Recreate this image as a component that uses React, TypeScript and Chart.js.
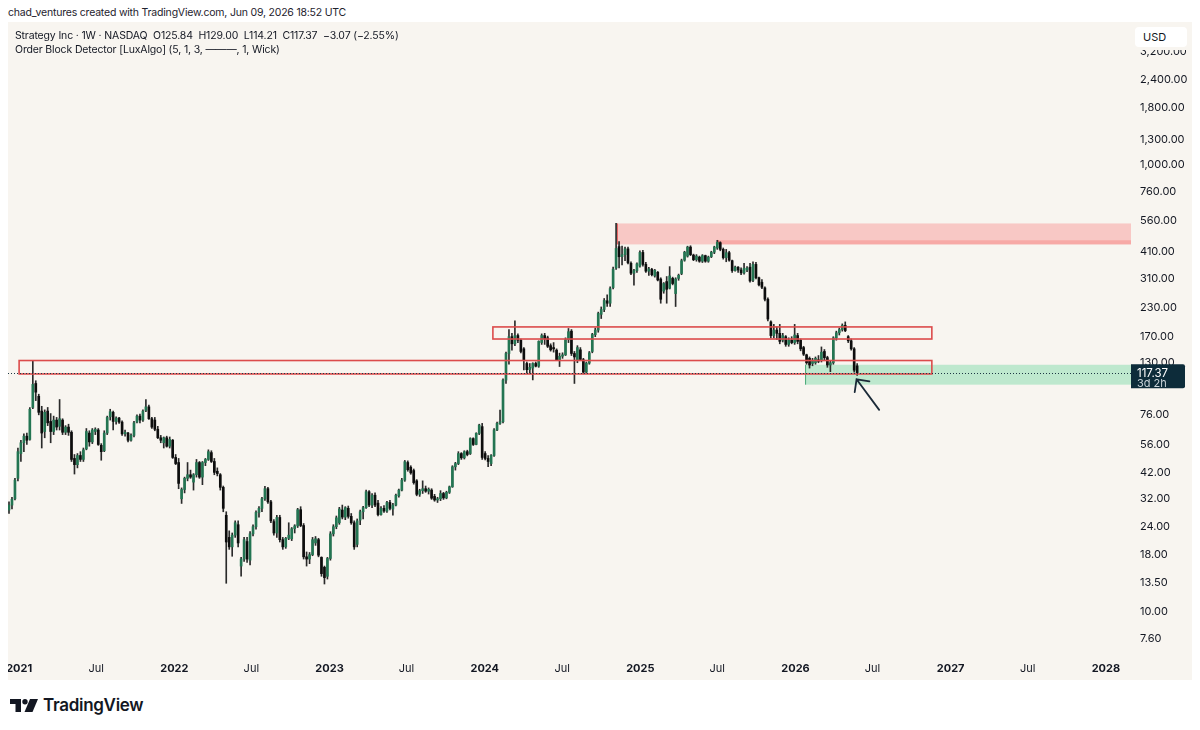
import React, { useEffect, useRef } from 'react';
import { Chart, registerables } from 'chart.js';

Chart.register(...registerables);

const FONT = 'Inter, "Noto Sans", sans-serif';
const DAY_MS = 86400000;
const FIRST_WEEK = Date.UTC(2020, 11, 21); // Monday of the first weekly bar

// Weekly OHLC, Strategy Inc (MSTR)
const OPEN = [
  28.5, 30.0, 32.0, 39.5, 51.0, 57.0, 61.0, 59.0, 82.0, 105.0,
  92.0, 79.0, 64.0, 79.0, 71.0, 64.0, 72.0, 67.5, 72.0, 63.5,
  67.0, 63.5, 48.5, 45.5, 50.0, 48.0, 53.5, 63.0, 57.5, 64.0,
  65.0, 55.5, 52.5, 63.0, 74.5, 78.0, 71.0, 73.5, 70.5, 62.5,
  63.0, 58.5, 61.5, 70.5, 75.0, 72.0, 79.5, 82.5, 73.0, 72.0,
  65.5, 60.0, 57.0, 60.0, 55.0, 58.5, 49.0, 46.5, 32.0, 35.2,
  39.5, 41.0, 38.0, 41.0, 46.5, 40.0, 46.5, 48.0, 51.5, 47.0,
  42.5, 41.0, 36.0, 27.0, 21.5, 19.5, 22.0, 24.5, 16.0, 17.2,
  20.6, 17.0, 22.3, 24.0, 27.8, 29.0, 32.0, 35.5, 31.0, 25.3,
  22.5, 26.4, 21.0, 19.5, 21.3, 21.2, 23.5, 24.2, 28.6, 24.3,
  17.6, 17.2, 18.0, 20.3, 21.0, 17.5, 15.8, 14.4, 17.3, 22.3,
  24.0, 25.0, 28.5, 26.5, 29.0, 26.7, 25.0, 20.0, 25.7, 28.0,
  29.2, 34.4, 30.0, 33.2, 30.6, 27.2, 29.0, 28.2, 30.8, 28.8,
  30.0, 33.0, 35.0, 38.8, 46.5, 44.3, 42.8, 38.5, 33.5, 34.8,
  35.5, 34.6, 35.0, 32.8, 31.6, 32.0, 33.8, 32.3, 34.2, 36.2,
  44.5, 46.0, 51.0, 48.8, 52.0, 51.0, 59.5, 56.0, 62.8, 67.3,
  51.0, 48.5, 46.0, 50.0, 65.0, 69.6, 70.8, 108.7, 143.0, 170.0,
  158.0, 172.0, 164.0, 150.0, 129.0, 121.0, 123.0, 129.0, 125.5, 160.0,
  172.0, 168.0, 155.0, 152.0, 148.0, 134.0, 139.0, 141.0, 165.0, 180.0,
  143.0, 134.0, 148.5, 134.0, 118.0, 129.5, 146.0, 173.5, 182.0, 214.0,
  225.0, 246.0, 240.0, 282.0, 345.0, 430.0, 388.0, 396.0, 420.0, 362.0,
  327.0, 336.0, 352.0, 405.0, 358.0, 334.0, 340.0, 318.0, 330.0, 308.0,
  272.0, 300.0, 280.0, 310.0, 265.0, 310.0, 326.0, 374.0, 390.0, 428.0,
  394.0, 376.0, 386.0, 370.0, 392.0, 370.0, 388.0, 406.0, 424.0, 448.0,
  418.0, 384.0, 404.0, 372.0, 336.0, 348.0, 338.0, 328.0, 338.0, 348.0,
  304.0, 358.0, 312.0, 298.0, 281.0, 250.0, 198.0, 172.0, 182.0, 176.0,
  164.0, 170.0, 157.0, 164.0, 160.0, 172.0, 164.0, 152.0, 141.0, 136.0,
  129.0, 130.0, 134.0, 133.0, 146.0, 137.0, 127.0, 130.0, 168.0, 177.0,
  183.0, 191.0, 170.0, 163.0, 150.0, 125.84,
];

const HIGH = [
  31.0, 32.5, 39.5, 54.0, 58.5, 62.5, 63.0, 82.0, 133.0, 108.0,
  94.0, 83.0, 80.0, 82.0, 77.0, 75.0, 74.0, 89.0, 73.0, 68.0,
  69.0, 64.5, 50.5, 51.0, 52.0, 54.0, 66.0, 64.5, 66.0, 66.5,
  66.0, 56.5, 64.5, 75.0, 80.5, 79.0, 74.5, 74.0, 71.5, 65.0,
  63.5, 62.5, 71.0, 76.0, 76.5, 80.0, 89.0, 84.0, 74.0, 74.0,
  67.5, 61.5, 60.5, 61.0, 60.5, 59.0, 50.5, 48.5, 35.8, 40.0,
  46.5, 43.0, 41.5, 48.0, 47.0, 47.0, 48.5, 53.0, 52.5, 48.5,
  44.0, 41.5, 36.5, 28.0, 23.0, 22.5, 25.5, 25.5, 17.5, 21.5,
  21.5, 22.8, 24.5, 28.3, 29.5, 32.5, 36.4, 36.0, 31.5, 25.8,
  27.0, 27.0, 21.5, 21.5, 25.0, 23.8, 24.5, 29.0, 29.5, 24.8,
  18.5, 18.4, 21.5, 21.7, 21.3, 17.6, 16.0, 17.5, 22.8, 24.5,
  26.8, 29.3, 30.0, 29.5, 29.7, 27.5, 25.5, 26.0, 28.5, 29.6,
  35.0, 34.8, 33.8, 34.0, 31.5, 29.5, 29.8, 31.2, 31.5, 30.5,
  33.6, 35.4, 39.5, 47.5, 47.3, 45.0, 43.5, 39.0, 35.3, 38.5,
  36.5, 35.8, 35.5, 33.5, 32.5, 34.8, 34.2, 34.6, 36.5, 45.0,
  46.6, 52.0, 51.5, 52.5, 52.8, 60.0, 60.0, 63.2, 69.0, 69.6,
  52.0, 50.0, 50.5, 66.0, 70.5, 79.8, 110.0, 145.0, 183.0, 176.0,
  200.0, 175.0, 166.0, 152.0, 131.0, 129.0, 130.0, 131.0, 163.0, 175.0,
  176.0, 171.0, 158.0, 160.0, 150.0, 143.5, 144.0, 168.0, 185.0, 183.0,
  146.0, 155.0, 152.0, 136.0, 131.0, 146.0, 176.0, 186.0, 219.0, 231.0,
  252.0, 262.0, 284.0, 348.0, 546.0, 453.0, 432.0, 428.0, 428.0, 368.0,
  340.0, 364.0, 412.0, 414.0, 366.0, 347.0, 344.0, 340.0, 333.0, 312.0,
  297.0, 316.0, 350.0, 314.0, 312.0, 324.0, 378.0, 410.0, 432.0, 434.0,
  398.0, 396.0, 390.0, 396.0, 394.0, 390.0, 410.0, 432.0, 459.0, 452.0,
  424.0, 418.0, 410.0, 374.0, 352.0, 350.0, 346.0, 362.0, 350.0, 362.0,
  368.0, 366.0, 314.0, 306.0, 284.0, 254.0, 200.0, 193.0, 188.0, 193.0,
  176.0, 172.0, 168.0, 170.0, 193.0, 176.0, 166.0, 154.0, 142.0, 138.0,
  136.0, 138.0, 140.0, 153.0, 149.0, 139.0, 132.0, 170.0, 180.0, 186.0,
  194.0, 198.0, 172.0, 166.0, 152.0, 129.0,
];

const LOW = [
  27.5, 28.8, 31.6, 38.5, 47.0, 52.0, 56.0, 58.5, 81.0, 88.0,
  76.0, 54.0, 60.0, 68.0, 57.0, 62.0, 65.0, 65.0, 62.0, 62.0,
  61.5, 47.0, 41.3, 44.0, 47.0, 47.0, 53.0, 55.0, 56.5, 62.0,
  55.5, 47.6, 52.0, 62.0, 72.0, 65.0, 69.0, 69.5, 61.5, 61.0,
  57.5, 58.0, 60.5, 70.0, 70.0, 71.0, 78.5, 72.5, 66.0, 64.5,
  59.5, 57.0, 54.0, 54.5, 54.0, 48.5, 45.5, 35.5, 30.5, 34.0,
  38.5, 39.5, 35.0, 40.0, 39.5, 37.0, 45.0, 47.5, 46.5, 41.0,
  40.5, 35.0, 28.0, 13.4, 19.0, 17.7, 21.5, 19.5, 14.4, 16.8,
  16.6, 16.2, 21.8, 23.4, 26.5, 28.0, 31.5, 30.5, 25.0, 22.0,
  21.5, 20.5, 19.0, 19.2, 21.0, 20.8, 22.5, 23.8, 24.0, 17.2,
  16.0, 16.4, 17.8, 19.8, 17.6, 14.4, 13.3, 14.0, 17.0, 21.8,
  23.5, 24.6, 26.0, 25.8, 26.2, 24.6, 19.0, 19.5, 24.5, 26.0,
  29.0, 29.5, 29.2, 29.5, 26.8, 27.0, 27.8, 27.8, 28.5, 27.0,
  29.7, 32.5, 34.7, 38.3, 42.5, 41.2, 37.2, 33.0, 32.8, 33.8,
  34.2, 33.6, 31.8, 31.2, 30.8, 31.4, 31.8, 32.0, 33.8, 36.0,
  43.0, 45.5, 48.0, 48.2, 49.8, 50.5, 55.4, 55.8, 62.0, 48.0,
  47.8, 44.5, 45.0, 49.5, 64.5, 68.8, 70.0, 105.0, 128.0, 148.0,
  155.0, 160.0, 144.0, 120.7, 116.6, 116.0, 108.9, 124.5, 124.0, 157.0,
  157.0, 152.0, 146.5, 145.0, 133.0, 125.0, 136.0, 140.0, 160.0, 140.0,
  105.0, 130.0, 133.0, 116.0, 116.5, 128.0, 144.0, 170.0, 178.0, 205.0,
  220.0, 232.0, 232.0, 278.0, 340.0, 345.0, 356.0, 372.0, 360.0, 322.0,
  289.0, 330.0, 348.0, 352.0, 330.0, 320.0, 318.0, 314.0, 302.0, 240.0,
  266.0, 240.0, 278.0, 290.0, 232.0, 304.0, 322.0, 370.0, 386.0, 392.0,
  372.0, 370.0, 366.0, 365.0, 366.0, 366.0, 384.0, 400.0, 418.0, 412.0,
  378.0, 368.0, 370.0, 330.0, 334.0, 330.0, 322.0, 324.0, 332.0, 298.0,
  300.0, 308.0, 287.0, 279.0, 246.0, 200.0, 168.0, 168.0, 165.0, 158.0,
  161.0, 154.0, 154.0, 158.0, 157.0, 158.0, 147.0, 140.0, 128.0, 123.0,
  126.0, 128.0, 130.0, 131.0, 134.0, 124.0, 118.6, 128.0, 164.0, 173.0,
  180.0, 179.0, 160.0, 148.0, 118.0, 114.21,
];

const CLOSE = [
  30.0, 31.8, 38.8, 52.0, 57.0, 61.0, 58.5, 80.5, 104.0, 96.0,
  78.0, 63.0, 78.0, 70.0, 64.0, 72.0, 67.0, 73.0, 63.5, 67.0,
  63.5, 48.0, 45.5, 50.0, 48.0, 53.0, 64.0, 57.5, 65.0, 65.5,
  56.0, 52.0, 63.0, 74.0, 78.5, 71.0, 73.5, 70.5, 62.5, 63.5,
  58.5, 61.5, 70.0, 75.0, 72.0, 79.0, 82.5, 73.0, 67.0, 65.5,
  60.0, 58.5, 60.0, 55.0, 59.0, 49.0, 46.0, 37.5, 35.2, 39.5,
  41.0, 40.0, 41.0, 46.5, 40.0, 46.5, 48.0, 52.0, 47.0, 42.0,
  41.5, 36.0, 29.0, 20.5, 19.5, 22.0, 25.0, 20.3, 17.2, 21.0,
  17.2, 22.3, 24.0, 27.8, 29.0, 32.0, 35.5, 31.0, 25.5, 22.5,
  26.4, 21.0, 19.5, 21.3, 22.0, 23.5, 24.2, 28.6, 24.3, 17.6,
  17.2, 18.0, 21.0, 21.2, 17.9, 14.8, 14.2, 17.3, 22.3, 24.0,
  26.3, 28.8, 26.5, 29.2, 26.7, 25.0, 19.5, 25.5, 28.0, 29.2,
  34.4, 30.0, 33.2, 30.0, 27.2, 29.0, 28.2, 30.8, 29.0, 30.0,
  33.2, 35.0, 38.8, 46.9, 43.2, 41.8, 37.8, 33.5, 34.8, 35.5,
  34.6, 35.3, 32.2, 31.6, 32.0, 33.8, 32.3, 34.2, 36.2, 44.5,
  46.0, 51.0, 48.8, 52.0, 50.5, 59.5, 56.0, 62.8, 68.4, 49.0,
  48.5, 47.0, 50.0, 65.0, 69.6, 70.8, 108.7, 143.0, 170.0, 158.0,
  172.0, 164.0, 146.0, 134.0, 121.0, 124.0, 129.0, 125.5, 162.0, 172.0,
  166.0, 154.0, 148.5, 150.0, 134.0, 139.0, 141.0, 165.0, 179.0, 143.0,
  138.0, 152.0, 134.5, 118.0, 129.5, 144.0, 174.0, 182.0, 216.0, 225.0,
  247.0, 240.0, 279.0, 341.0, 421.9, 387.5, 396.0, 420.0, 364.0, 327.0,
  336.0, 360.0, 405.0, 358.0, 334.0, 342.0, 322.0, 337.0, 305.0, 250.0,
  294.0, 277.0, 318.0, 294.0, 308.0, 320.0, 372.0, 406.0, 428.0, 396.0,
  376.0, 390.0, 370.0, 392.0, 370.0, 386.0, 406.0, 428.0, 450.0, 418.0,
  384.0, 404.0, 374.0, 336.0, 348.0, 338.0, 328.0, 344.0, 345.0, 302.0,
  358.0, 312.0, 290.0, 283.0, 250.0, 204.0, 172.0, 182.0, 176.0, 162.0,
  172.0, 157.0, 164.0, 160.0, 173.0, 162.0, 150.0, 142.0, 130.0, 127.0,
  133.0, 136.0, 132.0, 145.0, 137.0, 127.0, 130.0, 168.0, 177.0, 183.0,
  191.0, 181.0, 163.0, 150.0, 120.44, 117.37,
];

// Price axis tick labels
const Y_TICKS = [7.6, 10, 13.5, 18, 24, 32, 42, 56, 76, 130, 170, 230, 310, 410, 560, 760, 1000, 1300, 1800, 2400, 3200];

// Time axis ticks
const X_TICK_YEARS = [2021, 2021, 2022, 2022, 2023, 2023, 2024, 2024, 2025, 2025, 2026, 2026, 2027, 2027, 2028];
const X_TICK_MONTHS = [0, 6, 0, 6, 0, 6, 0, 6, 0, 6, 0, 6, 0, 6, 0];
const X_TICK_LABELS = ['2021', 'Jul', '2022', 'Jul', '2023', 'Jul', '2024', 'Jul', '2025', 'Jul', '2026', 'Jul', '2027', 'Jul', '2028'];

// Order blocks (bar index where they start / end, price top / bottom)
const OB_FROM = [204.3, 238.2, 162.6, 3.4, 267.5];
const OB_TO = [Infinity, Infinity, 310.1, 310.1, Infinity];
const OB_TOP = [546, 459, 188, 133, 127.3];
const OB_BOTTOM = [440, 440, 166, 115.8, 103.7];
const OB_KIND = ['bearFill', 'bearFill', 'bearLine', 'bearLine', 'bullFill'];

// Hand-drawn arrow (bar index, price)
const ARROW_FROM = [292.4, 80];
const ARROW_TO = [284.8, 109.6];

const LAST_LABEL_SUB = '3d 2h';

const dayOf = (bar: number) => FIRST_WEEK / DAY_MS + 7 * bar;
const X_MIN = dayOf(-0.336);
const X_MAX = dayOf(377.02);
const LABEL_SHIFT_DAYS = 13;
const X_TICKS = X_TICK_YEARS.map((y, i) => Date.UTC(y, X_TICK_MONTHS[i], 1) / DAY_MS + LABEL_SHIFT_DAYS);

const UP = '#237552';
const DOWN = '#0d0d0d';
const WICK = '#2a2a2a';

const fmt = (v: number) =>
  v.toLocaleString('en-US', { minimumFractionDigits: 2, maximumFractionDigits: 2 });

const overlayPlugin = {
  id: 'obOverlay',
  beforeDatasetsDraw(chart: any) {
    const { ctx, chartArea: a, scales } = chart;
    const x = scales.x;
    const y = scales.y;
    ctx.save();
    ctx.beginPath();
    ctx.rect(a.left, a.top, a.right - a.left, a.bottom - a.top);
    ctx.clip();
    OB_KIND.forEach((kind, i) => {
      if (kind === 'bearLine') return;
      const x0 = x.getPixelForValue(dayOf(OB_FROM[i]));
      const x1 = OB_TO[i] === Infinity ? a.right : x.getPixelForValue(dayOf(OB_TO[i]));
      const y0 = y.getPixelForValue(OB_TOP[i]);
      const y1 = y.getPixelForValue(OB_BOTTOM[i]);
      ctx.fillStyle = kind === 'bullFill' ? 'rgba(38, 196, 120, 0.28)' : 'rgba(247, 82, 82, 0.27)';
      ctx.fillRect(x0, y0, x1 - x0, y1 - y0);
      ctx.fillStyle = kind === 'bullFill' ? 'rgba(20, 140, 80, 0.7)' : 'rgba(225, 60, 60, 0.7)';
      ctx.fillRect(x0, y0, 1, y1 - y0);
    });
    ctx.restore();
  },
  afterDatasetsDraw(chart: any) {
    const { ctx, chartArea: a, scales } = chart;
    const x = scales.x;
    const y = scales.y;
    ctx.save();
    ctx.beginPath();
    ctx.rect(a.left, a.top, a.right - a.left, a.bottom - a.top);
    ctx.clip();
    OB_KIND.forEach((kind, i) => {
      if (kind !== 'bearLine') return;
      const x0 = x.getPixelForValue(dayOf(OB_FROM[i]));
      const x1 = x.getPixelForValue(dayOf(OB_TO[i]));
      const y0 = y.getPixelForValue(OB_TOP[i]);
      const y1 = y.getPixelForValue(OB_BOTTOM[i]);
      ctx.strokeStyle = '#dc4b4b';
      ctx.lineWidth = 1.6;
      ctx.strokeRect(x0, y0, x1 - x0, y1 - y0);
    });
    // last price dotted line
    const last = CLOSE[CLOSE.length - 1];
    const py = Math.round(y.getPixelForValue(last)) + 0.5;
    ctx.strokeStyle = '#1d3845';
    ctx.lineWidth = 1;
    ctx.setLineDash([1, 2]);
    ctx.beginPath();
    ctx.moveTo(a.left, py);
    ctx.lineTo(a.right, py);
    ctx.stroke();
    ctx.setLineDash([]);
    // arrow
    const tx = x.getPixelForValue(dayOf(ARROW_FROM[0]));
    const ty = y.getPixelForValue(ARROW_FROM[1]);
    const hx = x.getPixelForValue(dayOf(ARROW_TO[0]));
    const hy = y.getPixelForValue(ARROW_TO[1]);
    const ang = Math.atan2(ty - hy, tx - hx);
    const head = 13;
    ctx.strokeStyle = '#1b2a38';
    ctx.lineWidth = 1.8;
    ctx.lineCap = 'round';
    ctx.beginPath();
    ctx.moveTo(tx, ty);
    ctx.lineTo(hx, hy);
    ctx.moveTo(hx + head * Math.cos(ang - 0.78), hy + head * Math.sin(ang - 0.78));
    ctx.lineTo(hx, hy);
    ctx.lineTo(hx + head * Math.cos(ang + 0.78), hy + head * Math.sin(ang + 0.78));
    ctx.stroke();
    ctx.restore();
  },
  afterDraw(chart: any) {
    const { ctx, chartArea: a, scales } = chart;
    const y = scales.y;
    const last = CLOSE[CLOSE.length - 1];
    const py = y.getPixelForValue(last);
    ctx.save();
    ctx.fillStyle = '#0d2c3a';
    const bx = a.right;
    const by = py - 8.5;
    const bw = 54;
    const bh = 24;
    ctx.beginPath();
    ctx.moveTo(bx, by);
    ctx.lineTo(bx + bw - 2, by);
    ctx.quadraticCurveTo(bx + bw, by, bx + bw, by + 2);
    ctx.lineTo(bx + bw, by + bh - 2);
    ctx.quadraticCurveTo(bx + bw, by + bh, bx + bw - 2, by + bh);
    ctx.lineTo(bx, by + bh);
    ctx.closePath();
    ctx.fill();
    ctx.textBaseline = 'middle';
    ctx.textAlign = 'left';
    ctx.font = `11.5px ${FONT}`;
    ctx.fillStyle = '#ffffff';
    ctx.fillText(fmt(last), bx + 6, py + 0.5);
    ctx.font = `11px ${FONT}`;
    ctx.fillStyle = '#c9d3d9';
    ctx.fillText(LAST_LABEL_SUB, bx + 6, py + 11.5);
    ctx.restore();
  },
};

function CandleChart() {
  const ref = useRef<HTMLCanvasElement | null>(null);
  useEffect(() => {
    if (!ref.current) return;
    const idx = CLOSE.map((_, i) => i);
    const up = (i: number) => CLOSE[i] >= OPEN[i];
    const chart = new Chart(ref.current, {
      type: 'bar',
      data: {
        datasets: [
          {
            label: 'wick',
            data: idx.map((i) => ({ x: dayOf(i), y: [LOW[i], HIGH[i]] })) as any,
            backgroundColor: WICK,
            barThickness: 1,
            grouped: false,
            order: 2,
          } as any,
          {
            label: 'body',
            data: idx.map((i) => ({ x: dayOf(i), y: [OPEN[i], CLOSE[i]] })) as any,
            backgroundColor: idx.map((i) => (up(i) ? UP : DOWN)),
            barThickness: 2,
            minBarLength: 1,
            grouped: false,
            order: 1,
          } as any,
        ],
      },
      options: {
        responsive: false,
        animation: false,
        maintainAspectRatio: false,
        layout: { padding: 0 },
        plugins: { legend: { display: false }, tooltip: { enabled: false } },
        scales: {
          x: {
            type: 'linear',
            min: X_MIN,
            max: X_MAX,
            offset: false,
            grid: { display: false, drawTicks: false },
            border: { display: false },
            afterBuildTicks: (scale: any) => {
              scale.ticks = X_TICKS.map((v) => ({ value: v }));
            },
            afterFit: (scale: any) => {
              scale.height = 25;
              scale.paddingLeft = 0;
              scale.paddingRight = 0;
              scale.paddingTop = 0;
              scale.paddingBottom = 0;
            },
            ticks: {
              autoSkip: false,
              maxRotation: 0,
              padding: 7,
              color: '#131722',
              font: (ctx: any) => ({
                family: FONT,
                size: 11,
                weight: X_TICK_LABELS[ctx.index] === 'Jul' ? 'normal' : 'bold',
              }),
              callback: (_v: any, i: number) => X_TICK_LABELS[i],
            },
          },
          y: {
            type: 'logarithmic',
            position: 'right',
            min: 6.4,
            max: 4351,
            grid: { display: false, drawTicks: false },
            border: { display: false },
            afterBuildTicks: (scale: any) => {
              scale.ticks = Y_TICKS.map((v) => ({ value: v }));
            },
            afterFit: (scale: any) => {
              scale.width = 61;
              scale.paddingTop = 0;
              scale.paddingBottom = 0;
              scale.paddingLeft = 0;
              scale.paddingRight = 0;
            },
            ticks: {
              autoSkip: false,
              padding: 9,
              color: '#131722',
              font: { family: FONT, size: 11 },
              callback: (v: any) => fmt(Number(v)),
            },
          },
        },
      },
      plugins: [overlayPlugin],
    });
    return () => chart.destroy();
  }, []);
  return <canvas ref={ref} width={1184} height={658} style={{ display: 'block', width: 1184, height: 658 }} />;
}

export default function App() {
  const text = '#131722';
  return (
    <div
      style={{
        position: 'absolute',
        left: 0,
        top: 0,
        width: 1200,
        height: 730,
        background: '#ffffff',
        overflow: 'hidden',
        fontFamily: FONT,
        color: text,
      }}
    >
      <div
        style={{
          position: 'absolute',
          left: 8,
          top: 5,
          fontSize: 10.5,
          letterSpacing: '-0.2px',
          lineHeight: '15px',
          color: '#1e222d',
          whiteSpace: 'pre',
        }}
      >
        chad_ventures created with TradingView.com, Jun 09, 2026 18:52 UTC
      </div>
      <div style={{ position: 'absolute', left: 8, top: 22, width: 1184, height: 658, background: '#f8f5f0' }}>
        <CandleChart />
        <div
          style={{
            position: 'absolute',
            left: 7,
            top: 7,
            fontSize: 10.5,
            letterSpacing: '-0.15px',
            lineHeight: '14px',
            whiteSpace: 'pre',
          }}
        >
          {'Strategy Inc · 1W · NASDAQ  O125.84  H129.00  L114.21  C117.37  −3.07 (−2.55%)'}
        </div>
        <div
          style={{
            position: 'absolute',
            left: 7,
            top: 21,
            fontSize: 10.5,
            letterSpacing: '-0.15px',
            lineHeight: '14px',
            whiteSpace: 'pre',
          }}
        >
          {'Order Block Detector [LuxAlgo] (5, 1, 3, ———, 1, Wick)'}
        </div>
        <div style={{ position: 'absolute', left: 1123, top: 0, width: 61, height: 28, background: '#f8f5f0' }} />
        <div
          style={{
            position: 'absolute',
            left: 1127,
            top: 5,
            width: 52,
            height: 20,
            background: '#ffffff',
            borderRadius: 4,
            fontSize: 11,
            lineHeight: '20px',
            paddingLeft: 8,
            boxSizing: 'border-box',
          }}
        >
          USD
        </div>
      </div>
      <div style={{ position: 'absolute', left: 10, top: 697, height: 16, display: 'flex', alignItems: 'center' }}>
        <svg width="28" height="13" viewBox="0 0 28 13">
          <path d="M0 0 H11 V13 H5.5 V5 H0 Z" fill="#131722" />
          <circle cx="15" cy="2.7" r="2.7" fill="#131722" />
          <path d="M20 0 H28 L22.5 13 H14.5 Z" fill="#131722" />
        </svg>
        <span style={{ marginLeft: 5, fontSize: 17, fontWeight: 600, letterSpacing: '-0.3px', lineHeight: '16px' }}>
          TradingView
        </span>
      </div>
    </div>
  );
}
